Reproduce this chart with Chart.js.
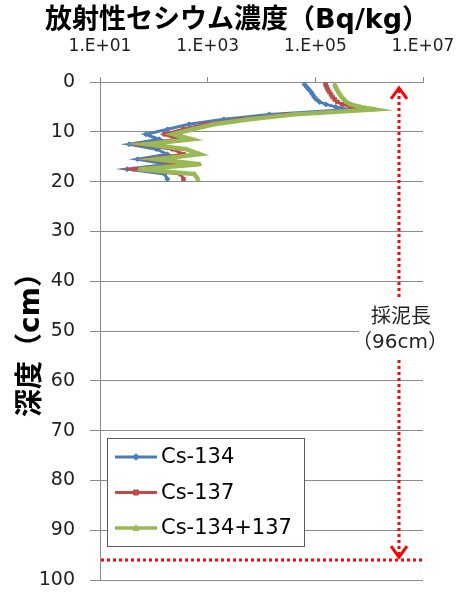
<!DOCTYPE html>
<html>
<head>
<meta charset="utf-8">
<script src="https://cdn.jsdelivr.net/npm/chart.js@4/dist/chart.umd.min.js"></script>
<style>
  html, body { margin: 0; padding: 0; background: #fff; }
  canvas { display: block; }
</style>
</head>
<body>
<canvas id="chart" width="459" height="595"></canvas>
<script>
// Sample depth (cm) of each measured slice
const depths = [0.5, 1, 1.5, 2, 2.5, 3, 3.5, 4, 4.5, 5, 5.5,
                6.5, 7.5, 8.5, 9.5, 10.5,
                11.5, 12.5, 13.5, 14.5, 15.5, 16.5, 17.5, 18.5, 19.5];

// Radioactive caesium concentration (Bq/kg) at each depth
const cs134 = [63000, 69000, 76000, 83000, 89000, 95000, 105000, 120000, 158000, 240000, 417000,
               14000, 2000, 450, 180, 71,
               126, 35, 112, 178, 50, 178, 32, 158, 178];
const cs137 = [155000, 162000, 170000, 182000, 195000, 209000, 229000, 257000, 316000, 479000, 891000,
               28000, 4000, 890, 355, 158,
               282, 52, 224, 355, 79, 355, 42, 316, 355];
const csTotal = [229000, 240000, 251000, 269000, 288000, 309000, 339000, 380000, 457000, 676000, 1260000,
                 41700, 6000, 1300, 525, 229,
                 500, 71, 398, 708, 112, 708, 55, 562, 661];

const seriesNames = ['Cs-134', 'Cs-137', 'Cs-134+137'];

// Concentration axis ticks (log scale)
const xTickValues = [1e1, 1e3, 1e5, 1e7];
const xTickLabels = ['1.E+01', '1.E+03', '1.E+05', '1.E+07'];

// Core length marker
const coreLength = 96;          // cm
const coreArrowValue = 3.6e6;   // horizontal position of the arrow (Bq/kg)
const coreLabel = '採泥長';

const FONT = "'DejaVu Sans', 'Noto Sans CJK JP', sans-serif";
const GRID = '#8a8a8a';

const pts = vals => vals.map((v, i) => ({ x: v, y: depths[i] }));

const styles = [
  { color: '#4A7EBB', point: 'rectRot', width: 3, order: 3 },
  { color: '#BE4B48', point: 'rect', width: 3, order: 2 },
  { color: '#98B954', point: 'triangle', width: 4.5, order: 1 }
];
const seriesValues = [cs134, cs137, csTotal];

const datasets = seriesValues.map((vals, i) => ({
  label: seriesNames[i],
  data: pts(vals),
  showLine: true,
  borderColor: styles[i].color,
  backgroundColor: styles[i].color,
  borderWidth: styles[i].width,
  pointStyle: styles[i].point,
  pointRadius: 2.5,
  pointBorderWidth: 1,
  tension: 0,
  order: styles[i].order
}));

function drawMarker(ctx, style, radius, x, y, color) {
  ctx.save();
  ctx.fillStyle = color;
  ctx.strokeStyle = color;
  ctx.lineWidth = 1;
  ctx.beginPath();
  if (style === 'rectRot') {
    ctx.moveTo(x, y - radius * 1.3); ctx.lineTo(x + radius * 1.3, y);
    ctx.lineTo(x, y + radius * 1.3); ctx.lineTo(x - radius * 1.3, y);
  } else if (style === 'rect') {
    ctx.rect(x - radius, y - radius, radius * 2, radius * 2);
  } else {
    ctx.moveTo(x, y - radius * 1.3); ctx.lineTo(x + radius * 1.2, y + radius);
    ctx.lineTo(x - radius * 1.2, y + radius);
  }
  ctx.closePath();
  ctx.fill();
  ctx.stroke();
  ctx.restore();
}

// Legend box inside the plot area
const insetLegend = {
  id: 'insetLegend',
  afterDraw(chart) {
    const ctx = chart.ctx;
    const bx = 107, by = 438, bw = 197, bh = 108;
    ctx.save();
    ctx.fillStyle = '#fff';
    ctx.fillRect(bx, by, bw, bh);
    ctx.strokeStyle = '#5a5a5a';
    ctx.lineWidth = 1;
    ctx.strokeRect(bx + 0.5, by + 0.5, bw, bh);
    chart.data.datasets.forEach((ds, i) => {
      const y = 457 + i * 35.5;
      ctx.strokeStyle = ds.borderColor;
      ctx.lineWidth = Math.min(ds.borderWidth, 3.5);
      ctx.beginPath();
      ctx.moveTo(115, y);
      ctx.lineTo(157, y);
      ctx.stroke();
      drawMarker(ctx, ds.pointStyle, 2.5, 136, y, ds.borderColor);
      ctx.fillStyle = '#000';
      ctx.font = '21px ' + FONT;
      ctx.textBaseline = 'middle';
      ctx.textAlign = 'left';
      ctx.fillText(ds.label, 161, y + 1);
    });
    ctx.restore();
  }
};

// Dotted arrow showing the length of the sediment core
const coreMarker = {
  id: 'coreMarker',
  afterDatasetsDraw(chart) {
    const { ctx, chartArea } = chart;
    const xs = chart.scales.x, ys = chart.scales.y;
    const ax = Math.round(xs.getPixelForValue(coreArrowValue));
    const yTop = ys.getPixelForValue(1.2);
    const yBot = ys.getPixelForValue(coreLength - 0.6);
    const yEnd = ys.getPixelForValue(coreLength);
    ctx.save();
    ctx.strokeStyle = '#FF0000';
    ctx.lineWidth = 3;
    ctx.setLineDash([3, 3]);
    ctx.beginPath();
    ctx.moveTo(ax, yTop + 2);
    ctx.lineTo(ax, yBot - 2);
    ctx.stroke();
    ctx.beginPath();
    ctx.moveTo(chartArea.left + 1, yEnd);
    ctx.lineTo(chartArea.right, yEnd);
    ctx.stroke();
    ctx.setLineDash([]);
    ctx.lineJoin = 'miter';
    ctx.beginPath();
    ctx.moveTo(ax - 8, yTop + 11); ctx.lineTo(ax, yTop); ctx.lineTo(ax + 8, yTop + 11);
    ctx.stroke();
    ctx.beginPath();
    ctx.moveTo(ax - 8, yBot - 11); ctx.lineTo(ax, yBot); ctx.lineTo(ax + 8, yBot - 11);
    ctx.stroke();

    // label with a white backing over the dotted line
    const ly = ys.getPixelForValue(47.4);
    ctx.fillStyle = '#fff';
    ctx.fillRect(ax - 40, ly - 19, 82, 60);
    ctx.fillStyle = '#222';
    ctx.font = '20px ' + FONT;
    ctx.textAlign = 'center';
    ctx.textBaseline = 'middle';
    ctx.fillText(coreLabel, ax + 2, ly);
    ctx.fillText('（' + coreLength + 'cm）', ax + 1, ly + 25);
    ctx.restore();
  }
};

new Chart(document.getElementById('chart'), {
  type: 'scatter',
  data: { datasets },
  options: {
    responsive: false,
    animation: false,
    layout: { padding: { left: 15, right: 0, top: 0, bottom: 15 } },
    plugins: {
      legend: { display: false },
      tooltip: { enabled: false },
      title: {
        display: true,
        text: '放射性セシウム濃度（Bq/kg）',
        color: '#000',
        font: { family: FONT, size: 27, weight: 'bold', lineHeight: 1.2 },
        padding: { top: 5, bottom: 0 }
      }
    },
    scales: {
      x: {
        type: 'logarithmic',
        position: 'top',
        min: 10,
        max: 1e7,
        afterBuildTicks: s => { s.ticks = xTickValues.map(v => ({ value: v })); },
        afterFit: s => { s.height = 44.6; s.paddingLeft = 0; s.paddingRight = 0; },
        ticks: {
          autoSkip: false,
          maxRotation: 0,
          color: '#222',
          font: { family: FONT, size: 17 },
          padding: 20,
          callback: (v, i) => xTickLabels[i]
        },
        grid: { drawOnChartArea: false, tickLength: 5, color: GRID },
        border: { color: GRID }
      },
      y: {
        type: 'linear',
        position: 'left',
        reverse: true,
        min: 0,
        max: 100,
        afterFit: s => { s.width = 85; s.paddingTop = 0; s.paddingBottom = 0; },
        ticks: {
          stepSize: 10,
          color: '#222',
          font: { family: FONT, size: 19 },
          padding: 15
        },
        grid: { color: GRID, tickLength: 10 },
        border: { color: GRID },
        title: {
          display: true,
          text: '深度（cm）\u3000',
          color: '#000',
          font: { family: FONT, size: 28, weight: 'bold' },
          padding: 0
        }
      },
      yRight: {
        position: 'right',
        display: true,
        afterFit: s => { s.width = 36; s.paddingTop = 0; s.paddingBottom = 0; },
        ticks: { display: false },
        grid: { display: false },
        border: { display: false }
      }
    }
  },
  plugins: [coreMarker, insetLegend]
});
</script>
</body>
</html>
